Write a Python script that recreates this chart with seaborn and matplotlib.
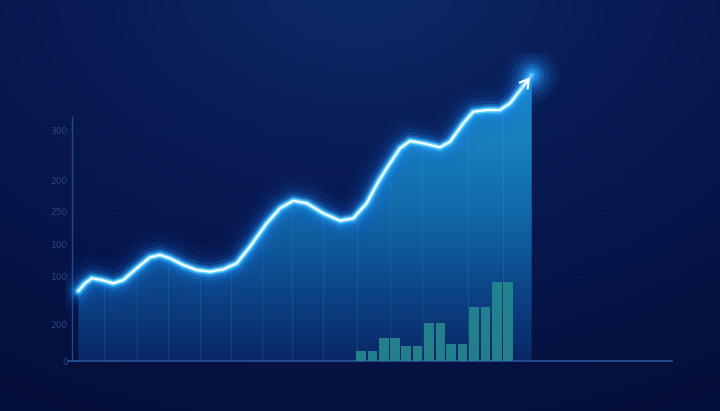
import numpy as np
import matplotlib
matplotlib.use("Agg")
import matplotlib.pyplot as plt
from matplotlib.colors import LinearSegmentedColormap
from matplotlib.patches import Polygon
import seaborn as sns

# values (x: 0..100 along the axis, y: 0..~400)
line_x = [1.05, 2.17, 3.28, 4.95, 6.88, 8.55, 10.78, 13.0, 14.67, 16.33, 18.55, 20.78,
          23.0, 25.22, 27.45, 29.67, 32.45, 34.67, 36.88, 39.12, 41.88, 44.67, 46.88,
          49.12, 51.05, 52.45, 54.67, 56.33, 58.55, 61.33, 63.0, 65.22, 66.88, 69.12,
          71.33, 73.0, 74.95, 76.62]
line_y = [91, 101, 107.5, 105.3, 101, 105.3, 120.5, 134.8, 137.8, 133.5, 124.8, 118.3,
          116.1, 119.2, 127, 148.6, 179, 198.5, 208.4, 205, 192, 182.4, 185.5,
          205, 233, 250.5, 276.5, 286, 283, 277.8, 285, 309, 324, 326.3,
          326.3, 335, 354.5, 371.8]

bar_x = [48.2, 50.1, 52.0, 53.8, 55.7, 57.6, 59.5, 61.4, 63.2, 65.1, 67.0, 68.9, 70.8, 72.7]
bar_h = [13, 13, 30, 30, 20, 20, 49, 49, 22, 22, 70, 70, 103, 103]

ytick_pos = [0, 47, 110, 151, 194, 235, 300]
ytick_labels = ["0", "200", "100", "100", "250", "200", "300"]

grid_x = [5.3, 10.8, 16.0, 21.3, 26.5, 31.7, 36.7, 41.8, 47.5, 53.0, 58.3, 66.0, 71.8]

sns.set_theme(style="dark")
plt.rcParams['font.family'] = ['DejaVu Sans']

fig = plt.figure(figsize=(7.2, 4.11), dpi=100)

# background: dark navy with a lighter haze at the top centre
bg = fig.add_axes([0, 0, 1, 1], zorder=0)
gx, gy = np.meshgrid(np.linspace(0, 1, 360), np.linspace(0, 1, 206))
dist = np.sqrt(((gx - 0.5) * 1.2) ** 2 + ((gy + 0.05) * 1.0) ** 2)
bg_cmap = LinearSegmentedColormap.from_list("bg", ["#0d2a66", "#091d55", "#06154a", "#050f3a"])
bg.imshow(np.clip(dist / 1.15, 0, 1), cmap=bg_cmap, aspect="auto", extent=[0, 1, 0, 1],
          origin="upper", interpolation="bicubic")
bg.set_axis_off()

ax = fig.add_axes([66 / 720, 50 / 411, 606 / 720, 307.7 / 411], zorder=1)
ax.set_facecolor("none")
ax.set_xlim(-1, 100)
ax.set_ylim(0, 400)

# gradient fill under the line
verts = [(line_x[0], 0)] + list(zip(line_x, line_y)) + [(line_x[-1], 0)]
poly = Polygon(verts, closed=True, facecolor="none", edgecolor="none")
ax.add_patch(poly)
fill_cmap = LinearSegmentedColormap.from_list(
    "fill", ["#0a2766", "#0c4688", "#1168a8", "#1780bd", "#1b8fca"])
grad = np.linspace(0, 1, 256).reshape(-1, 1)
im = ax.imshow(grad, cmap=fill_cmap, aspect="auto", origin="lower",
               extent=[line_x[0], line_x[-1], 0, 380], zorder=1)
im.set_clip_path(poly)

# faint vertical grid lines inside the fill
for gxv in grid_x:
    vl = ax.axvline(gxv, color="#6cc4f0", lw=0.8, alpha=0.13, zorder=2)
    vl.set_clip_path(poly)

# faint horizontal grid lines
for yp in ytick_pos[1:]:
    ax.axhline(yp, xmin=0.01, xmax=1, color="#4a80c0", lw=0.6, alpha=0.05, zorder=0.5)

# bars
sns.barplot(x=bar_x, y=bar_h, native_scale=True, width=0.88, color="#25898f",
            saturation=1, alpha=0.9, linewidth=0, edgecolor="none", ax=ax, zorder=3)
ax.set_xlim(-1, 100)
ax.set_ylim(0, 400)

# glowing line
glow = [(36, "#1458d0", 0.05), (27, "#176ce4", 0.07), (19, "#1c84f8", 0.11),
        (13, "#2298ff", 0.18), (8.5, "#2aaaff", 0.33), (5.5, "#3cbcff", 0.6),
        (3.4, "#70d8ff", 0.9), (1.6, "#f2fdff", 1.0)]
for lw, col, a in glow:
    sns.lineplot(x=line_x, y=line_y, sort=False, estimator=None, color=col, lw=lw,
                 alpha=a, ax=ax, zorder=4, solid_capstyle="round", solid_joinstyle="round")

# arrow head and glow at the tip
for s, a in [(1500, 0.05), (950, 0.08), (550, 0.12), (280, 0.2), (120, 0.3)]:
    ax.scatter([line_x[-1]], [line_y[-1]], s=s, color="#2aa0ff", alpha=a, lw=0, zorder=4)
ax.annotate("", xy=(line_x[-1], line_y[-1]), xytext=(line_x[-2], line_y[-2]),
            arrowprops=dict(arrowstyle="->,head_length=0.5,head_width=0.3",
                            color="#f2fdff", lw=1.6), zorder=5)

# axes
for s in ["top", "right"]:
    ax.spines[s].set_visible(False)
ax.spines["left"].set_position(("data", 0))
ax.spines["left"].set_bounds(0, 317)
ax.spines["left"].set_color("#234a88")
ax.spines["left"].set_linewidth(1.0)
ax.spines["bottom"].set_color("#2a5599")
ax.spines["bottom"].set_linewidth(1.2)
ax.spines["bottom"].set_bounds(-0.7, 100)

ax.set_yticks(ytick_pos)
ax.set_yticklabels(ytick_labels)
ax.set_xticks([])
ax.tick_params(axis="y", length=0, pad=3, labelsize=6.5, labelcolor="#2a4680")
ax.grid(False)
ax.set_xlabel("")
ax.set_ylabel("")

fig.savefig("out.png", dpi=100)
